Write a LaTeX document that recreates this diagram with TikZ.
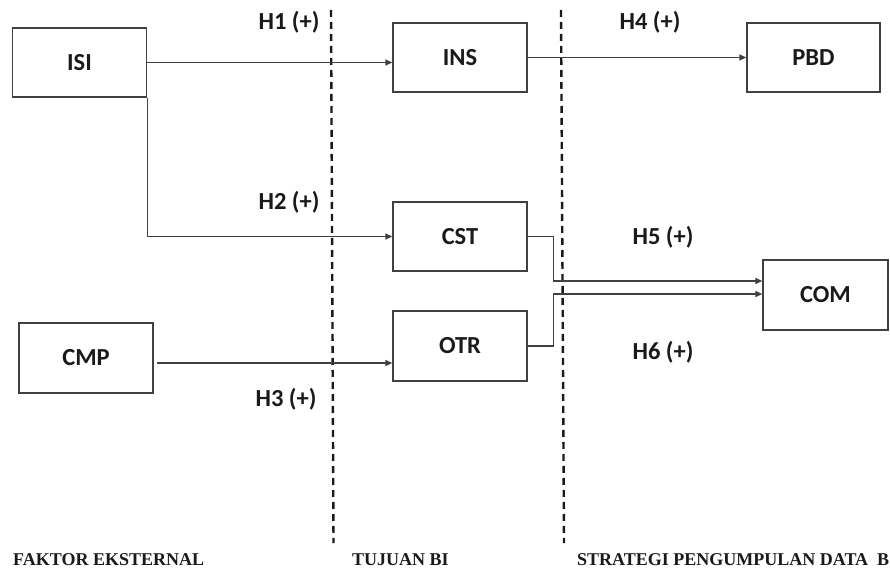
\documentclass[tikz,border=0pt]{standalone}
\usepackage{fontspec}
\setmainfont{Carlito}
\newfontfamily\timesbold{Liberation Serif}[BoldFont={* Bold}]
\usetikzlibrary{arrows.meta}
\definecolor{linegray}{HTML}{404040}
\definecolor{txt}{HTML}{1A1A1A}
\tikzset{
  boxnode/.style={draw=linegray, line width=1.3pt, minimum width=134pt, minimum height=69pt, inner sep=0pt,
    font=\fontsize{24.5}{28}\selectfont\bfseries, text=txt},
  hlabel/.style={font=\fontsize{24.5}{28}\selectfont\bfseries, text=txt, inner sep=0pt},
  seclabel/.style={font=\timesbold\fontsize{18}{20}\selectfont\bfseries, text=txt, inner sep=0pt, anchor=base west},
  arr/.style={draw=linegray, line width=1.3pt, -{Triangle[length=7pt,width=6pt]}},
  divider/.style={draw=txt, line width=2.4pt, dash pattern=on 7pt off 5pt}
}
\begin{document}
\begin{tikzpicture}[x=1pt,y=-1pt]
\useasboundingbox[fill=white] (0,0) rectangle (890,569);
% boxes
\node[boxnode] (ISI) at (79.5,62.5) {ISI};
\node[boxnode] (INS) at (460,57.5) {INS};
\node[boxnode, minimum width=133pt] (PBD) at (813.5,57.5) {PBD};
\node[boxnode] (CST) at (460,236.5) {CST};
\node[boxnode, minimum height=70pt] (OTR) at (460,346) {OTR};
\node[boxnode, minimum height=70pt] (CMP) at (86,358) {CMP};
\node[boxnode, minimum width=125pt, minimum height=70pt] (COM) at (825.5,295) {COM};
% dividers
\coordinate (d1t) at (331,10);
\coordinate (d1b) at (333.5,543);
\coordinate (d2t) at (561,10);
\coordinate (d2b) at (564,543);
\draw[divider] (d1t) -- (d1b);
\draw[divider] (d2t) -- (d2b);
% connectors
\draw[arr] (ISI.east) -- (INS.west |- ISI.east);
\draw[arr] (INS.east) -- (PBD.west);
\draw[arr] (ISI.south east) |- (CST.west);
\coordinate (cmpout) at (157,363);
\draw[arr] (cmpout) -- (OTR.west |- cmpout);
\draw[arr] (CST.east) -- ++(26,0) |- ([yshift=14pt]COM.west);
\draw[arr] (OTR.east) -- ++(26,0) |- ([yshift=1pt]COM.west);
% hypothesis labels
\node[hlabel] (h1) at (289,22) {H1 (+)};
\node[hlabel] (h2) at (289,202) {H2 (+)};
\node[hlabel] (h3) at (286,399) {H3 (+)};
\node[hlabel] (h4) at (650,22) {H4 (+)};
\node[hlabel] (h5) at (663,237) {H5 (+)};
\node[hlabel] (h6) at (663,352) {H6 (+)};
% section labels
\node[seclabel] (s1) at (13,565) {FAKTOR EKSTERNAL};
\node[seclabel] (s2) at (352,565) {TUJUAN BI};
\node[seclabel] (s3) at (577,565) {STRATEGI PENGUMPULAN DATA\ \ B};
\end{tikzpicture}
\end{document}
